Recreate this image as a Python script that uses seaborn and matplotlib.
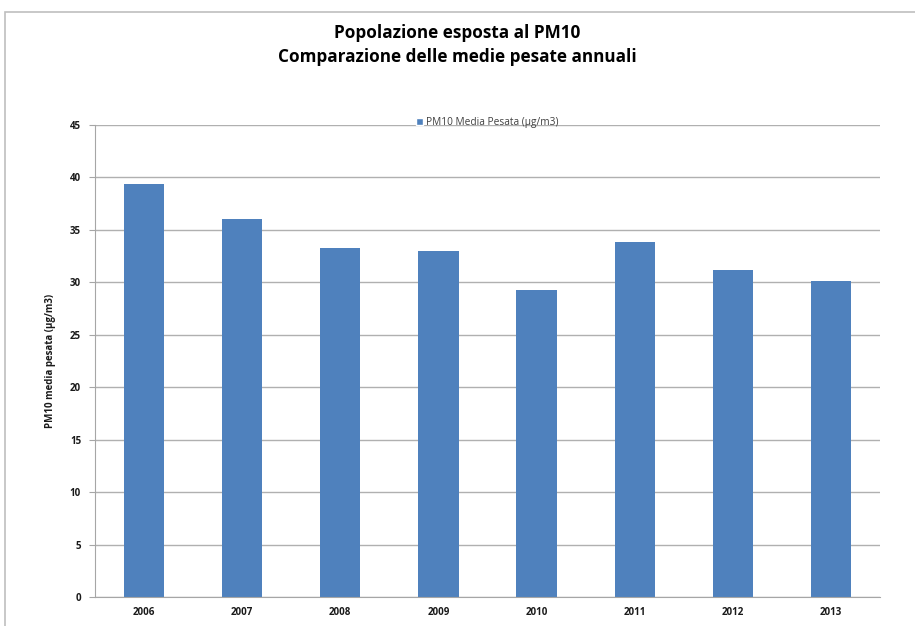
import matplotlib
matplotlib.use("Agg")
import matplotlib.pyplot as plt
import seaborn as sns
import pandas as pd
from matplotlib.patches import Rectangle, Patch

years = ["2006", "2007", "2008", "2009", "2010", "2011", "2012", "2013"]
values = [39.4, 36.0, 33.3, 33.0, 29.3, 33.8, 31.2, 30.1]
series_name = "PM10 Media Pesata (µg/m3)"

df = pd.DataFrame({"year": years, "value": values})

sns.set_style("white")
plt.rcParams["font.family"] = ["Open Sans", "DejaVu Sans"]

W, H = 915, 626
fig = plt.figure(figsize=(W / 100, H / 100), dpi=100)
ax = fig.add_axes([95 / W, 1 - 597 / H, (880 - 95) / W, (597 - 125) / H])

color = "#4f81bd"
sns.barplot(data=df, x="year", y="value", color=color, width=0.41,
            saturation=1, ax=ax, edgecolor="none")

ax.set_ylim(0, 45)
ax.set_xlim(-0.5, len(years) - 0.5)
ax.set_yticks(range(0, 46, 5))
ax.yaxis.grid(True, color="#b0b0b0", linewidth=1.0)
ax.set_axisbelow(True)
for s in ["top", "right"]:
    ax.spines[s].set_visible(False)
ax.spines["left"].set_color("#a6a6a6")
ax.spines["bottom"].set_color("#a6a6a6")
ax.tick_params(axis="y", length=4, color="#a6a6a6", labelsize=7, pad=6, left=True,
               labelcolor="#1a1a1a")
ax.tick_params(axis="x", length=0, labelsize=7, pad=7, labelcolor="#1a1a1a")
for lbl in ax.get_xticklabels() + ax.get_yticklabels():
    lbl.set_fontweight("bold")
ax.set_xlabel("")
ax.set_ylabel("PM10 media pesata (µg/m3)", fontsize=7, fontweight="bold", labelpad=10,
              color="#1a1a1a")

# minor tick marks between categories on x axis
ax.set_xticks([i + 0.5 for i in range(len(years) - 1)], minor=True)
ax.tick_params(axis="x", which="minor", length=3, color="#a6a6a6")

leg = ax.legend(handles=[Patch(facecolor=color, label=series_name)],
                loc="upper center", bbox_to_anchor=(0.5, 1.037), frameon=False,
                fontsize=7.3, handlelength=0.7, handleheight=0.7, handletextpad=0.3)
for t in leg.get_texts():
    t.set_color("#404040")

fig.text(0.5, 1 - 33 / H, "Popolazione esposta al PM10", ha="center", va="center",
         fontsize=12.3, fontweight="bold", color="black")
fig.text(0.5, 1 - 57 / H, "Comparazione delle medie pesate annuali", ha="center",
         va="center", fontsize=12.3, fontweight="bold", color="black")

# outer chart border
fig.patches.append(Rectangle((5 / W, -0.1), 1.1, 1 - 12 / H + 0.1, transform=fig.transFigure,
                             fill=False, edgecolor="#bfbfbf", linewidth=1.2))

fig.savefig("out.png", dpi=100)
